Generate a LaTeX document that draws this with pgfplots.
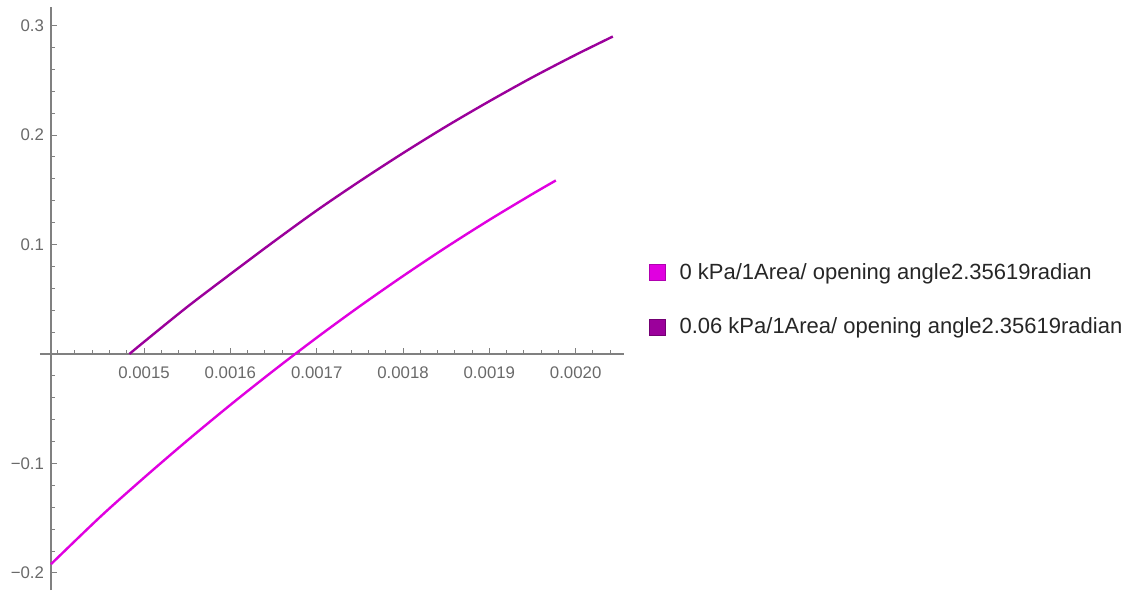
\documentclass[border=0pt]{standalone}
\usepackage{fontspec}
\setmainfont{Liberation Sans}
\usepackage{pgfplots}
\pgfplotsset{compat=1.18}

\definecolor{curveA}{RGB}{224,0,224}
\definecolor{curveAedge}{RGB}{176,0,176}
\definecolor{curveB}{RGB}{155,0,155}
\definecolor{curveBedge}{RGB}{115,0,115}
\definecolor{axisgray}{RGB}{128,128,128}
\definecolor{labelgray}{RGB}{105,105,105}

\begin{document}
\begin{tikzpicture}
\useasboundingbox (-25.5bp,-1bp) rectangle (539.5bp,295bp);
\begin{axis}[
  at={(0,0)}, anchor=south west,
  scale only axis, width=286.5bp, height=291.5bp,
  xmin=0.0013922, xmax=0.002056, ymin=-0.2156, ymax=0.317,
  axis x line=middle, axis y line=left,
  axis line style={draw=axisgray, line width=0.6bp, -},
  x axis line style={shorten <=-5.5bp},
  tick style={draw=axisgray, line width=0.5bp},
  tick align=inside,
  major tick length=3bp, minor tick length=1.8bp,
  scaled x ticks=false, scaled y ticks=false,
  xtick={0.0015,0.0016,0.0017,0.0018,0.0019,0.0020},
  xticklabels={0.0015,0.0016,0.0017,0.0018,0.0019,0.0020},
  minor xtick={0.00140,0.00142,0.00144,0.00146,0.00148,
               0.00152,0.00154,0.00156,0.00158,
               0.00162,0.00164,0.00166,0.00168,
               0.00172,0.00174,0.00176,0.00178,
               0.00182,0.00184,0.00186,0.00188,
               0.00192,0.00194,0.00196,0.00198,
               0.00202,0.00204},
  ytick={-0.2,-0.1,0,0.1,0.2,0.3},
  yticklabels={−0.2,−0.1,,0.1,0.2,0.3},
  minor y tick num=4,
  ticklabel style={font=\fontsize{8.4bp}{10bp}\selectfont, text=labelgray},
  xticklabel style={yshift=-2.8bp},
  clip=false,
  legend style={draw=none, fill=none, at={(1.0436,0.4974)}, anchor=west,
    font=\fontsize{11bp}{13bp}\selectfont, text=black!85,
    row sep=14bp, inner sep=0pt,
    /tikz/every odd column/.style={column sep=5bp}},
  legend cell align=left,
]
% 0 kPa loading
\addplot[curveA, line width=1.2bp, smooth,
  legend image code/.code={\draw[draw=curveAedge, fill=curveA, line width=0.5bp] (0bp,-3.8bp) rectangle (7.6bp,3.8bp);}]
  coordinates {
  (0.0013922,-0.1920) (0.00145,-0.1482) (0.00150,-0.1130) (0.00155,-0.0791)
  (0.00160,-0.0465) (0.00165,-0.0152) (0.00170,0.0149) (0.00175,0.0437)
  (0.00180,0.0712) (0.00185,0.0975) (0.00190,0.1225) (0.00195,0.1462)
  (0.001977,0.1585)
  };
\addlegendentry{0 kPa/1Area/ opening angle2.35619radian}
% 0.06 kPa loading
\addplot[curveB, line width=1.2bp, smooth,
  legend image code/.code={\draw[draw=curveBedge, fill=curveB, line width=0.5bp] (0bp,-3.8bp) rectangle (7.6bp,3.8bp);}]
  coordinates {
  (0.001483,0.0000) (0.00150,0.0111) (0.00155,0.0430) (0.00160,0.0730)
  (0.00165,0.1025) (0.00170,0.1311) (0.00175,0.1579) (0.00180,0.1835)
  (0.00185,0.2079) (0.00190,0.2309) (0.00195,0.2528) (0.00200,0.2733)
  (0.002043,0.2900)
  };
\addlegendentry{0.06 kPa/1Area/ opening angle2.35619radian}
\end{axis}
\end{tikzpicture}
\end{document}
